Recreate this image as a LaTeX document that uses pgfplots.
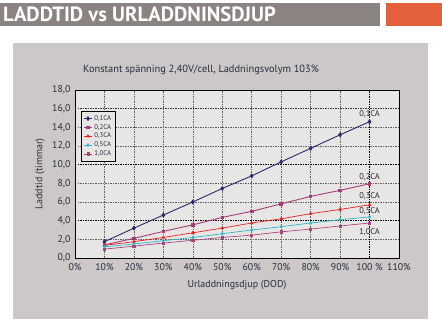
\documentclass[border=0pt]{standalone}
\usepackage{fontspec}
\setmainfont{PT Sans}
\usepackage{pgfplots}
\pgfplotsset{compat=1.18}
\definecolor{hdrgray}{HTML}{8A8381}
\definecolor{hdrorange}{HTML}{E4603C}
\definecolor{panel}{HTML}{CCC8C7}
\definecolor{plotbg}{HTML}{E8E6E4}
\definecolor{txt}{HTML}{2A2A40}
\definecolor{cA}{HTML}{2D2A6B}
\definecolor{cB}{HTML}{A23D7A}
\definecolor{cC}{HTML}{E02424}
\definecolor{cD}{HTML}{2FB6C9}
\definecolor{cE}{HTML}{A8457F}
\begin{document}
\begin{tikzpicture}[x=1pt,y=1pt]
\useasboundingbox (0,0) rectangle (442,328);
\fill[white] (0,0) rectangle (442,328);
\fill[hdrgray] (0,302) rectangle (380,325);
\fill[hdrorange] (386,302) rectangle (442,325);
\node[anchor=base west,inner sep=0pt,text=white,font=\fontsize{20.6}{22}\selectfont\bfseries] at (3,306) {LADDTID vs URLADDNINSDJUP};
\fill[panel] (13,9) rectangle (428,285);
\node[anchor=west,inner sep=0pt,text=txt,font=\fontsize{10.4}{12}\selectfont] at (83,258) {Konstant spänning 2,40V/cell, Laddningsvolym 103\%};
\begin{axis}[
  at={(75pt,70pt)}, anchor=south west,
  scale only axis, width=324pt, height=168pt,
  xmin=0, xmax=110, ymin=0, ymax=18,
  axis background/.style={fill=plotbg},
  axis line style={black, line width=0.9pt},
  xtick={0,10,...,110},
  xticklabels={0\%,10\%,20\%,30\%,40\%,50\%,60\%,70\%,80\%,90\%,100 \%,110\%},
  ytick={0,2,...,18},
  major tick length=0pt,
  /pgf/number format/.cd, use comma, fixed, fixed zerofill, precision=1, assume math mode=true,
  /pgfplots/.cd,
  tick label style={font=\fontsize{9.8}{11}\selectfont, text=txt},
  xticklabel style={yshift=-1.5pt},
  yticklabel style={xshift=-1pt},
  grid=major,
  major grid style={gray!75!black, line width=0.6pt, dash pattern=on 1.5pt off 1pt},
  xlabel={Urladdningsdjup (DOD)},
  ylabel={Laddtid (timmar)},
  label style={font=\fontsize{10}{11}\selectfont, text=txt},
  xlabel style={at={(axis description cs:0.5,-0.16)}, anchor=center},
  ylabel style={at={(axis description cs:-0.108,0.5)}, anchor=center, rotate=0},
  legend style={at={(rel axis cs:0.019,0.875)}, anchor=north west, draw=black, line width=0.8pt, fill=plotbg,
    font=\fontsize{6.8}{7.5}\selectfont, text=txt, row sep=-1.5pt, inner sep=2pt},
  legend cell align=left,
  legend image code/.code={\draw[mark repeat=2,mark phase=2] plot coordinates {(0cm,0cm)(0.14cm,0cm)(0.28cm,0cm)};},
  clip=false,
]
\draw[black, line width=0.8pt, dash pattern=on 1.5pt off 1pt] (axis cs:0,4) -- (axis cs:110,4);
\draw[black, line width=0.8pt, dash pattern=on 1.5pt off 1pt] (axis cs:0,10) -- (axis cs:110,10);
\draw[gray!40!black, line width=0.7pt, dash pattern=on 1.5pt off 1pt] (axis cs:0,16) -- (axis cs:110,16);
\draw[black, line width=0.8pt, dash pattern=on 1.5pt off 1pt] (axis cs:100,0) -- (axis cs:100,18);
\addplot[cA, line width=0.9pt, mark=diamond*, mark size=1.8pt] coordinates {
 (10,1.75) (20,3.2) (30,4.6) (40,6.0) (50,7.45) (60,8.8) (70,10.3) (80,11.75) (90,13.2) (100,14.6)};
\addlegendentry{0,1CA}
\addplot[cB, line width=0.9pt, mark=square*, mark size=1.3pt] coordinates {
 (10,1.4) (20,2.1) (30,2.85) (40,3.55) (50,4.35) (60,5.0) (70,5.8) (80,6.6) (90,7.25) (100,7.95)};
\addlegendentry{0,2CA}
\addplot[cC, line width=0.7pt, mark=triangle*, mark size=1.4pt] coordinates {
 (10,1.35) (20,1.75) (30,2.2) (40,2.7) (50,3.2) (60,3.75) (70,4.2) (80,4.75) (90,5.2) (100,5.7)};
\addlegendentry{0,3CA}
\addplot[cD, line width=0.7pt, mark=diamond*, mark size=1.3pt] coordinates {
 (10,1.2) (20,1.5) (30,1.85) (40,2.2) (50,2.6) (60,3.0) (70,3.35) (80,3.75) (90,4.1) (100,4.4)};
\addlegendentry{0,5CA}
\addplot[cE, line width=0.7pt, mark=square*, mark size=1.1pt] coordinates {
 (10,0.95) (20,1.27) (30,1.6) (40,1.9) (50,2.2) (60,2.45) (70,2.8) (80,3.1) (90,3.43) (100,3.75)};
\addlegendentry{1,0CA}
\node[font=\fontsize{8.4}{9}\selectfont, text=txt] at (axis cs:100,15.4) {0,1CA};
\node[font=\fontsize{8.4}{9}\selectfont, text=txt] at (axis cs:100,8.65) {0,2CA};
\node[font=\fontsize{8.4}{9}\selectfont, text=txt] at (axis cs:100,6.6) {0,3CA};
\node[font=\fontsize{8.4}{9}\selectfont, text=txt] at (axis cs:100,5.0) {0,5CA};
\node[font=\fontsize{8.4}{9}\selectfont, text=txt] at (axis cs:100,2.8) {1,0CA};
\end{axis}
\end{tikzpicture}
\end{document}
